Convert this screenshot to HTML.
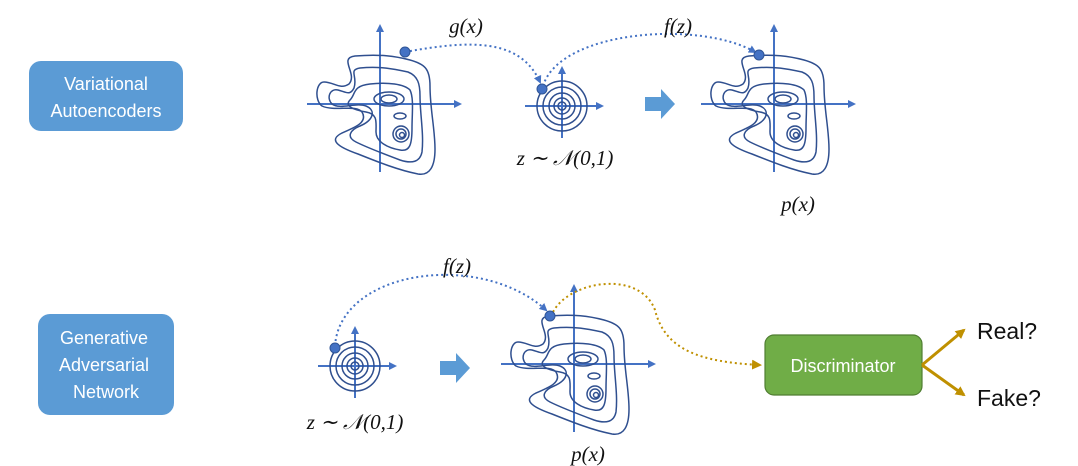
<!DOCTYPE html>
<html><head><meta charset="utf-8"><style>
html,body{margin:0;padding:0;background:#fff;}
svg{display:block;}
.lbl{font-family:"Liberation Sans",sans-serif;fill:#fff;font-size:18px;text-anchor:middle;}
.math{font-family:"Liberation Serif",serif;font-style:italic;font-size:21px;fill:#111;text-anchor:middle;}
.ax{stroke:#4472c4;stroke-width:2;fill:none;}
.ct{stroke:#2f4f8f;stroke-width:1.5;fill:none;}
.dot{fill:#4472c4;stroke:#2f5597;stroke-width:1;}
.dash{stroke:#4472c4;stroke-width:2;stroke-dasharray:2 3;fill:none;}
.gold{stroke:#bf9000;stroke-width:2;stroke-dasharray:2 3;fill:none;}
</style></head><body>
<svg width="1078" height="466" viewBox="0 0 1078 466">
<defs>
<marker id="ab" markerWidth="8" markerHeight="8" refX="6" refY="4" orient="auto" markerUnits="userSpaceOnUse"><path d="M0,0 L8,4 L0,8 Z" fill="#4472c4"/></marker>
<marker id="ag" markerWidth="10" markerHeight="10" refX="8" refY="5" orient="auto" markerUnits="userSpaceOnUse"><path d="M0,0 L10,5 L0,10 Z" fill="#bf9000"/></marker>
<g id="contour">
<path class="ax" d="M-73,0 H80" marker-end="url(#ab)"/>
<path class="ax" d="M0,68 V-78" marker-end="url(#ab)"/>
<path class="ct" d="M-25,-48 C0,-50 15,-48 30,-44 C44,-40 50,-36 50,-18 C50,5 55,25 55,45 C55,62 50,72 38,70 C18,66 -2,58 -22,50 C-42,43 -52,36 -38,29 C-24,23 -12,18 -18,8 C-24,0 -45,8 -58,2 C-66,-4 -64,-22 -56,-22 C-46,-22 -40,-14 -31,-20 C-22,-30 -42,-46 -25,-48 Z"/>
<path class="ct" d="M-20,-36 C0,-38 14,-35 28,-32 C38,-28 40,-20 40,-8 C40,10 44,30 42,48 C40,58 32,60 20,56 C4,50 -12,44 -24,38 C-34,33 -30,26 -20,22 C-6,16 -4,6 -14,2 C-24,-2 -40,6 -48,0 C-54,-6 -50,-16 -42,-14 C-34,-12 -30,-8 -26,-16 C-22,-28 -32,-34 -20,-36 Z"/>
<path class="ct" d="M-10,-20 C8,-22 24,-20 30,-14 C34,-6 32,10 32,24 C32,40 30,48 20,46 C8,44 -4,38 -4,28 C-4,18 -2,10 -14,8 C-26,6 -36,2 -30,-4 C-24,-10 -28,-18 -10,-20 Z"/>
<ellipse class="ct" cx="9" cy="-5" rx="15" ry="7"/>
<ellipse class="ct" cx="9" cy="-5" rx="8" ry="4"/>
<ellipse class="ct" cx="20" cy="12" rx="6" ry="3"/>
<circle class="ct" cx="21" cy="30" r="8"/>
<circle class="ct" cx="21" cy="30" r="5"/>
<circle class="ct" cx="22" cy="31" r="2.5"/>
</g>
<g id="gauss">
<path class="ax" d="M-37,0 H40" marker-end="url(#ab)"/>
<path class="ax" d="M0,32 V-38" marker-end="url(#ab)"/>
<circle class="ct" r="25"/><circle class="ct" r="19"/><circle class="ct" r="13"/><circle class="ct" r="8"/><circle class="ct" r="4"/>
</g>
</defs>

<g>
<rect x="29" y="61" width="154" height="70" rx="12" fill="#5b9bd5"/>
<text class="lbl" x="106" y="90">Variational</text>
<text class="lbl" x="106" y="117">Autoencoders</text>
</g>
<g>
<rect x="38" y="314" width="136" height="101" rx="12" fill="#5b9bd5"/>
<text class="lbl" x="104" y="344">Generative</text>
<text class="lbl" x="104" y="371">Adversarial</text>
<text class="lbl" x="106" y="398">Network</text>
</g>

<use href="#contour" x="380" y="104"/>
<use href="#gauss" x="562" y="106"/>
<use href="#contour" x="774" y="104"/>
<path d="M645,97 H661 V89 L675,104 L661,119 V111 H645 Z" fill="#5b9bd5"/>

<path class="dash" d="M405,52 C470,40 520,38 540,82" marker-end="url(#ab)"/>
<path class="dash" d="M543,86 C560,30 700,20 755,52" marker-end="url(#ab)"/>
<circle class="dot" cx="405" cy="52" r="5"/>
<circle class="dot" cx="542" cy="89" r="5"/>
<circle class="dot" cx="759" cy="55" r="5"/>
<text class="math" x="466" y="33">g(x)</text>
<text class="math" x="678" y="33">f(z)</text>
<text class="math" x="565" y="165">z ∼ 𝒩(0,1)</text>
<text class="math" x="798" y="211">p(x)</text>

<use href="#gauss" x="355" y="366"/>
<use href="#contour" x="574" y="364"/>
<path d="M440,361 H456 V353 L470,368 L456,383 V375 H440 Z" fill="#5b9bd5"/>
<path class="dash" d="M335,346 C340,270 480,250 546,310" marker-end="url(#ab)"/>
<path class="gold" d="M553,312 C570,280 640,270 655,310 C665,350 700,362 760,365" marker-end="url(#ag)"/>
<circle class="dot" cx="335" cy="348" r="5"/>
<circle class="dot" cx="550" cy="316" r="5"/>
<text class="math" x="457" y="273">f(z)</text>
<text class="math" x="355" y="429">z ∼ 𝒩(0,1)</text>
<text class="math" x="588" y="461">p(x)</text>

<g>
<rect x="765" y="335" width="157" height="60" rx="9" fill="#70ad47" stroke="#507e32" stroke-width="1.2"/>
<text class="lbl" x="843" y="372">Discriminator</text>
</g>
<path d="M922,365 L964,330" stroke="#bf9000" stroke-width="3" fill="none" marker-end="url(#ag)"/>
<path d="M922,365 L964,395" stroke="#bf9000" stroke-width="3" fill="none" marker-end="url(#ag)"/>
<text x="977" y="339" font-family="Liberation Sans,sans-serif" font-size="23" fill="#111">Real?</text>
<text x="977" y="406" font-family="Liberation Sans,sans-serif" font-size="23" fill="#111">Fake?</text>
</svg>
</body></html>
